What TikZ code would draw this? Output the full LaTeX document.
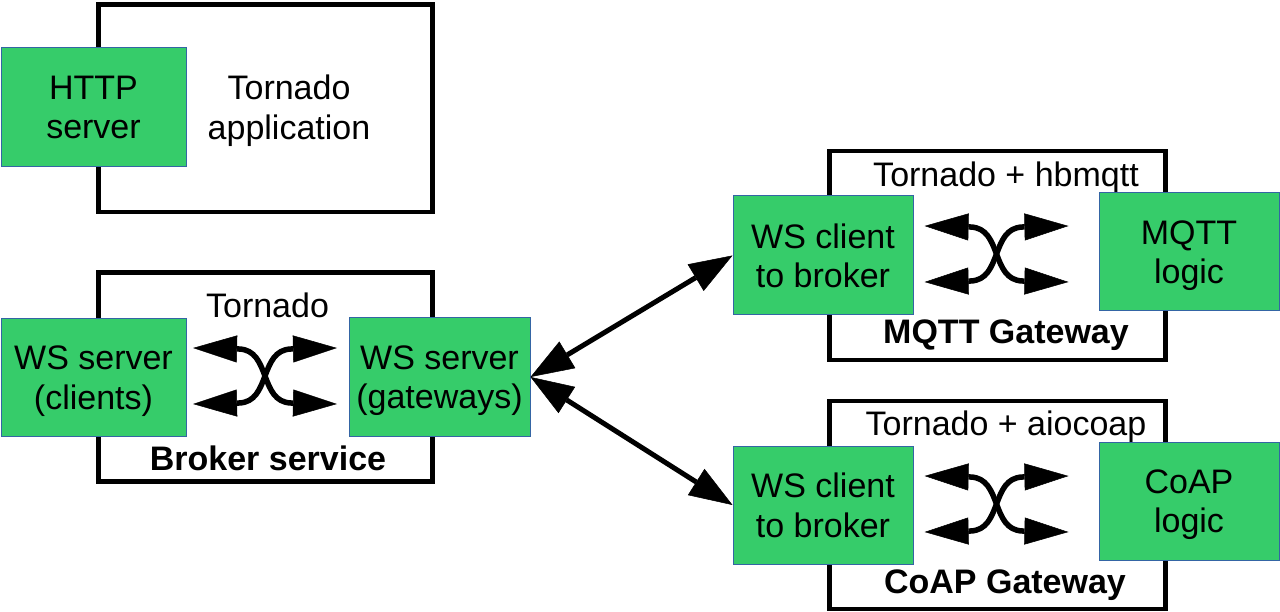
\documentclass[tikz,border=0pt]{standalone}
\usepackage{fontspec}
\setmainfont{Liberation Sans}
\usetikzlibrary{calc, arrows.meta}
\definecolor{gboxfill}{RGB}{54,204,106}
\definecolor{gboxline}{RGB}{52,101,164}
\newcommand{\swaparrows}[1]{%
\draw[swap] ($(#1)+(-72,-28)$) -- ($(#1)+(-26,-27)$) .. controls ($(#1)+(6,-26)$) and ($(#1)+(-6,26)$) .. ($(#1)+(26,27)$) -- ($(#1)+(72,28)$);
\draw[swap] ($(#1)+(-72,28)$) -- ($(#1)+(-26,27)$) .. controls ($(#1)+(6,26)$) and ($(#1)+(-6,-26)$) .. ($(#1)+(26,-27)$) -- ($(#1)+(72,-28)$);}

\begin{document}
\begin{tikzpicture}[x=1pt,y=-1pt,font=\fontsize{34}{39.5}\selectfont,
  outerbox/.style={draw=black,line width=4.5pt,inner sep=0pt},
  gbox/.style={draw=gboxline,fill=gboxfill,line width=1pt,inner sep=0pt,align=center,text depth=0pt,minimum width=180pt,minimum height=118pt},
  lbl/.style={inner sep=0pt,anchor=base},
  swap/.style={line width=5.5pt,{Triangle[length=44pt,width=27pt,line width=0.5pt]}-{Triangle[length=44pt,width=27pt,line width=0.5pt]}},
  link/.style={line width=5pt,{Triangle[length=43pt,width=31pt,line width=0.5pt]}-{Triangle[length=43pt,width=31pt,line width=0.5pt]}}]
\useasboundingbox (0,0) rectangle (1280,612);
\node[outerbox,minimum width=334pt,minimum height=207.5pt] (app) at (265.5,108.25) {};
\node[outerbox,minimum width=334pt,minimum height=209pt] (broker) at (265.5,377) {};
\node[outerbox,minimum width=336pt,minimum height=209pt] (mqttgw) at (997.5,255.5) {};
\node[outerbox,minimum width=336pt,minimum height=208pt] (coapgw) at (997.5,505) {};
\node[inner sep=0pt,align=center] (apptitle) at (289,110.5) {Tornado\\application};
\node[lbl] (brokertop) at (267.5,318) {Tornado};
\node[lbl] (brokername) at (268,470) {\bfseries Broker service};
\node[lbl] (mqtttop) at (1006,187) {Tornado + hbmqtt};
\node[lbl] (mqttname) at (1006,344) {\bfseries MQTT Gateway};
\node[lbl] (coaptop) at (1006,435) {Tornado + aiocoap};
\node[lbl] (coapname) at (1005,593) {\bfseries CoAP Gateway};
\node[gbox,minimum width=185pt,minimum height=119pt] (http) at (93.5,107.5) {HTTP\\server};
\node[gbox,minimum width=185pt,minimum height=117pt] (wsclients) at (93.5,377.5) {WS server\\(clients)};
\node[gbox,minimum width=181pt] (wsgateways) at (439.5,377) {WS server\\(gateways)};
\node[gbox,minimum height=119pt] (mqttws) at (823,255.5) {WS client\\to broker};
\node[gbox] (mqttlogic) at (1189,252) {MQTT\\logic};
\node[gbox] (coapws) at (823,505) {WS client\\to broker};
\node[gbox] (coaplogic) at (1189,501) {CoAP\\logic};
\coordinate (brokerx) at (265,376);
\coordinate (mqttx) at (996.5,254);
\coordinate (coapx) at (996.5,504);
\swaparrows{brokerx}
\swaparrows{mqttx}
\swaparrows{coapx}
\draw[link] (wsgateways.east) -- (mqttws.west);
\draw[link] (wsgateways.east) -- (coapws.west);
\end{tikzpicture}
\end{document}
